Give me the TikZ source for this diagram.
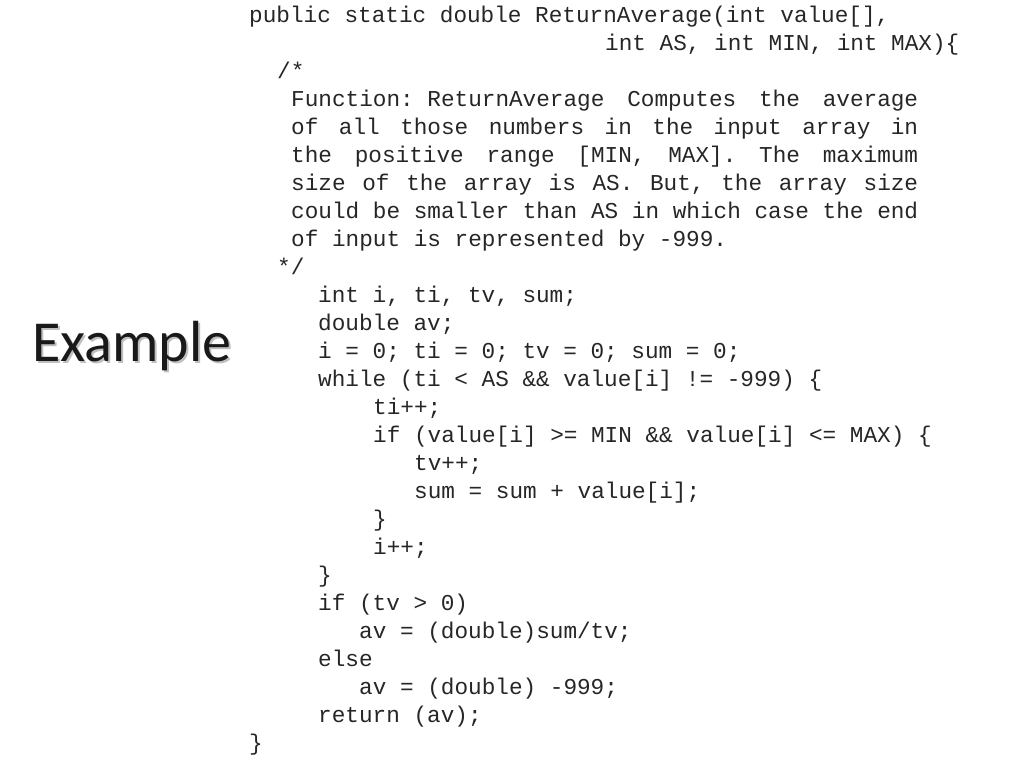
\documentclass[tikz,border=0pt]{standalone}
\usepackage{fontspec}
\setmonofont{Liberation Mono}
\newfontfamily\titlefont{Carlito}
\begin{document}
\begin{tikzpicture}[x=1pt,y=-1pt,
  code/.style={anchor=base west,inner sep=0pt,font=\ttfamily\fontsize{22.7}{24}\selectfont,text=black!85},
  ttl/.style={anchor=west,inner sep=0pt,font=\titlefont\fontsize{58}{60}\selectfont}]
\useasboundingbox (0,0) rectangle (1024,768);
\node[ttl,text=black!25] (tshadow) at (34,348) {Example};
\node[ttl,text=black!90] (title) at (32,346) {Example};
\newcommand{\jl}[1]{\makebox[627pt][s]{#1}}
\node[code] (l1) at (249,23) {public static double ReturnAverage(int value[],};
\node[code] (l2) at (605,50) {int AS, int MIN, int MAX)\{};
\node[code] (l3) at (277,78) {/*};
\node[code] (c1) at (291,106) {\jl{Function: ReturnAverage\hfill Computes\hfill the\hfill average}};
\node[code] (c2) at (291,134) {\jl{of\hfill all\hfill those\hfill numbers\hfill in\hfill the\hfill input\hfill array\hfill in}};
\node[code] (c3) at (291,162) {\jl{the\hfill positive\hfill range\hfill [MIN,\hfill MAX].\hfill The\hfill maximum}};
\node[code] (c4) at (291,190) {\jl{size\hfill of\hfill the\hfill array\hfill is\hfill AS.\hfill But,\hfill the\hfill array\hfill size}};
\node[code] (c5) at (291,218) {\jl{could\hfill be\hfill smaller\hfill than\hfill AS\hfill in\hfill which\hfill case\hfill the\hfill end}};
\node[code] (c6) at (291,246) {of input is represented by -999.};
\node[code] (l4) at (277,274) {*/};
\node[code] (b1) at (318,302) {int i, ti, tv, sum;};
\node[code] (b2) at (318,330) {double av;};
\node[code] (b3) at (318,358) {i = 0; ti = 0; tv = 0; sum = 0;};
\node[code] (b4) at (318,386) {while (ti < AS \&\& value[i] != -999) \{};
\node[code] (b5) at (373,414) {ti++;};
\node[code] (b6) at (373,442) {if (value[i] >= MIN \&\& value[i] <= MAX) \{};
\node[code] (b7) at (414,470) {tv++;};
\node[code] (b8) at (414,498) {sum = sum + value[i];};
\node[code] (b9) at (373,526) {\}};
\node[code] (b10) at (373,554) {i++;};
\node[code] (b11) at (318,582) {\}};
\node[code] (b12) at (318,610) {if (tv > 0)};
\node[code] (b13) at (359,638) {av = (double)sum/tv;};
\node[code] (b14) at (318,666) {else};
\node[code] (b15) at (359,694) {av = (double) -999;};
\node[code] (b16) at (318,722) {return (av);};
\node[code] (b17) at (249,750) {\}};
\end{tikzpicture}
\end{document}
